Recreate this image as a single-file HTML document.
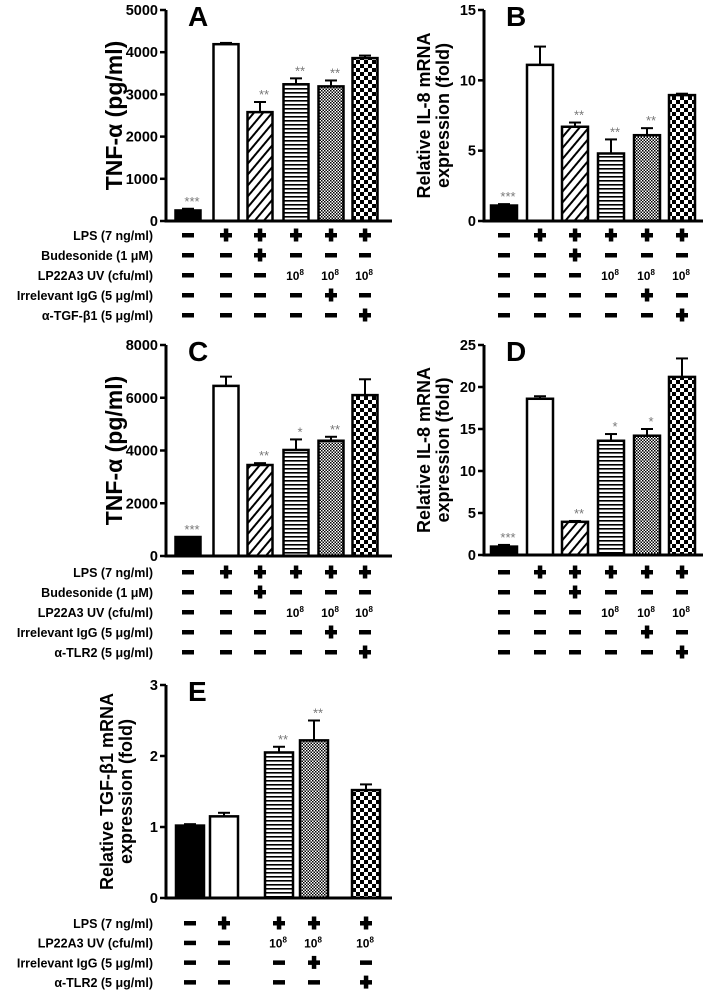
<!DOCTYPE html>
<html><head><meta charset="utf-8"><style>
html,body{margin:0;padding:0;background:#fff}
svg{display:block}
text{font-family:"Liberation Sans",Arial,sans-serif}
</style></head><body>
<svg id="fig" width="710" height="991" viewBox="0 0 710 991" xmlns="http://www.w3.org/2000/svg">
<defs>
<pattern id="p-hatch" patternUnits="userSpaceOnUse" width="7" height="7" patternTransform="rotate(40)">
<rect width="7" height="7" fill="#fff"/><rect x="0" y="0" width="2" height="7" fill="#000"/></pattern>
<pattern id="p-hline" patternUnits="userSpaceOnUse" width="4" height="4">
<rect width="4" height="4" fill="#fff"/><rect x="0" y="0" width="4" height="1.6" fill="#000"/></pattern>
<pattern id="p-fine" patternUnits="userSpaceOnUse" width="3" height="3">
<rect width="3" height="3" fill="#fff"/><rect width="1.5" height="1.5" fill="#000"/><rect x="1.5" y="1.5" width="1.5" height="1.5" fill="#000"/></pattern>
<pattern id="p-coarse" patternUnits="userSpaceOnUse" width="8" height="8">
<rect width="8" height="8" fill="#fff"/><rect width="4" height="4" fill="#000"/><rect x="4" y="4" width="4" height="4" fill="#000"/></pattern>
</defs>
</svg>
<script>
// ---- data ----
const valsA=[250,4190,2580,3240,3190,3860];
const errA=[290,4220,2820,3380,3330,3920];
const starsA=["***","","**","**","**",""];
const valsB=[1.1,11.1,6.7,4.8,6.1,8.95];
const errB=[1.2,12.4,7.0,5.8,6.6,9.05];
const starsB=["***","","**","**","**",""];
const valsC=[720,6450,3450,4020,4370,6100];
const errC=[720,6800,3520,4420,4520,6700];
const starsC=["***","","**","*","**",""];
const valsD=[1.0,18.6,3.95,13.6,14.2,21.2];
const errD=[1.2,18.9,4.05,14.4,15.0,23.4];
const starsD=["***","","**","*","*",""];
const valsE=[1.02,1.15,2.05,2.22,1.52];
const errE=[1.04,1.2,2.13,2.5,1.6];
const starsE=["","","**","**",""];
const ticksA=[0,1000,2000,3000,4000,5000];
const ticksB=[0,5,10,15];
const ticksC=[0,2000,4000,6000,8000];
const ticksD=[0,5,10,15,20,25];
const ticksE=[0,1,2,3];
const rowsAB=[["LPS (7 ng/ml)",["-","+","+","+","+","+"]],["Budesonide (1 \u03bcM)",["-","-","+","-","-","-"]],["LP22A3 UV (cfu/ml)",["-","-","-","e","e","e"]],["Irrelevant IgG (5 \u03bcg/ml)",["-","-","-","-","+","-"]],["\u03b1-TGF-\u03b21 (5 \u03bcg/ml)",["-","-","-","-","-","+"]]];
const rowsCD=[["LPS (7 ng/ml)",["-","+","+","+","+","+"]],["Budesonide (1 \u03bcM)",["-","-","+","-","-","-"]],["LP22A3 UV (cfu/ml)",["-","-","-","e","e","e"]],["Irrelevant IgG (5 \u03bcg/ml)",["-","-","-","-","+","-"]],["\u03b1-TLR2 (5 \u03bcg/ml)",["-","-","-","-","-","+"]]];
const rowsE=[["LPS (7 ng/ml)",["-","+","+","+","+"]],["LP22A3 UV (cfu/ml)",["-","-","e","e","e"]],["Irrelevant IgG (5 \u03bcg/ml)",["-","-","-","+","-"]],["\u03b1-TLR2 (5 \u03bcg/ml)",["-","-","-","-","+"]]];
const fills6=["#000","#fff","url(#p-hatch)","url(#p-hline)","url(#p-fine)","url(#p-coarse)"];
const fills5=["#000","#fff","url(#p-hline)","url(#p-fine)","url(#p-coarse)"];

const svg=document.getElementById('fig');
const NS="http://www.w3.org/2000/svg";
function mk(tag,attrs,parent){const e=document.createElementNS(NS,tag);for(const k in attrs)e.setAttribute(k,attrs[k]);(parent||svg).appendChild(e);return e;}

function panel(o){
  const g=mk('g',{});
  
  
  const ymax=o.ticks[o.ticks.length-1];
  const Y=v=>o.y0-(v/ymax)*(o.y0-o.yTop);
  o.vals.forEach((v,i)=>{
    const cx=o.cols[i],w=o.bw;
    const el=o.err[i];
    if(el>v){
      const l=mk('line',{x1:cx,x2:cx,y1:Y(v),y2:Y(el),stroke:'#000','stroke-width':2},g);
      
      
      mk('line',{x1:cx-6,x2:cx+6,y1:Y(el),y2:Y(el),stroke:'#000','stroke-width':2},g);
    }
    const r=mk('rect',{x:cx-w/2,y:Y(v),width:w,height:o.y0-Y(v),fill:o.fills[i],stroke:'#000','stroke-width':2.5},g);
    
    
    if(o.stars[i]){
      const t=mk('text',{x:cx+4,y:Y(Math.max(el,v))-3,'text-anchor':'middle','font-size':13,fill:'#777'},g);
      t.textContent=o.stars[i];
      
      
    }
  });
  const ya=mk('line',{x1:o.ax,x2:o.ax,y1:o.yTop,y2:o.y0+1.5,stroke:'#000','stroke-width':3},g);
  
  
  const xa=mk('line',{x1:o.ax-1.5,x2:o.axEnd,y1:o.y0,y2:o.y0,stroke:'#000','stroke-width':3},g);
  
  
  o.ticks.forEach(t=>{
    mk('line',{x1:o.ax-6,x2:o.ax,y1:Y(t),y2:Y(t),stroke:'#000','stroke-width':2.5},g);
    const tl=mk('text',{x:o.ax-8,y:Y(t)+5,'text-anchor':'end','font-size':14.5,'font-weight':'bold'},g);
    tl.textContent=t;
    
    
  });
  const L=mk('text',{x:o.ax+22,y:o.yTop+16,'font-size':28,'font-weight':'bold'},g);
  L.textContent=o.id;
  
  
  const tt=mk('text',{transform:`translate(${o.tx},${(o.yTop+o.y0)/2}) rotate(-90)`,'text-anchor':'middle','font-size':o.tsize,'font-weight':'bold'},g);
  
  
  o.title.forEach((s,k)=>{const ts=mk('tspan',{x:0,dy:k===0?0:o.lh},tt);ts.textContent=s;});
  o.rows.forEach((row,ri)=>{
    const y=o.rowY0+ri*o.rowDy;
    if(o.showLabels){
      const lt=mk('text',{x:153,y:y+5,'text-anchor':'end','font-size':12.5,'font-weight':'bold'},g);
      lt.textContent=row[0];
      
      
    }
    row[1].forEach((s,ci)=>{
      const cx=o.cols[ci];
      if(s==='-'){mk('rect',{x:cx-6,y:y-2,width:12,height:4.5,fill:'#000'},g);}
      else if(s==='+'){mk('rect',{x:cx-6,y:y-2,width:12,height:4.5,fill:'#000'},g);mk('rect',{x:cx-2.2,y:y-6.5,width:4.5,height:13,fill:'#000'},g);}
      else{const e=mk('text',{x:cx-1,y:y+5,'text-anchor':'middle','font-size':12,'font-weight':'bold'},g);
        e.textContent='10';const sp=mk('tspan',{dy:-5,'font-size':8},e);sp.textContent='8';}
    });
  });
}
const colsL=[188,226,260,296,331,365];
const colsR=[504,540,575,611,647,682];
panel({id:'A',vals:valsA,err:errA,stars:starsA,ticks:ticksA,fills:fills6,ax:166,axEnd:392,y0:221,yTop:10,cols:colsL,bw:25,title:['TNF-\u03b1 (pg/ml)'],tx:122,tsize:23,lh:0,rows:rowsAB,rowY0:235,rowDy:20,showLabels:true});
panel({id:'B',vals:valsB,err:errB,stars:starsB,ticks:ticksB,fills:fills6,ax:484,axEnd:703,y0:221,yTop:10,cols:colsR,bw:26,title:['Relative IL-8 mRNA','expression (fold)'],tx:430,tsize:18,lh:19,rows:rowsAB,rowY0:235,rowDy:20,showLabels:false});
panel({id:'C',vals:valsC,err:errC,stars:starsC,ticks:ticksC,fills:fills6,ax:166,axEnd:392,y0:556,yTop:345,cols:colsL,bw:25,title:['TNF-\u03b1 (pg/ml)'],tx:122,tsize:23,lh:0,rows:rowsCD,rowY0:572,rowDy:20,showLabels:true});
panel({id:'D',vals:valsD,err:errD,stars:starsD,ticks:ticksD,fills:fills6,ax:484,axEnd:703,y0:555,yTop:345,cols:colsR,bw:26,title:['Relative IL-8 mRNA','expression (fold)'],tx:430,tsize:18,lh:19,rows:rowsCD,rowY0:572,rowDy:20,showLabels:false});
panel({id:'E',vals:valsE,err:errE,stars:starsE,ticks:ticksE,fills:fills5,ax:166,axEnd:392,y0:898,yTop:685,cols:[190,224,279,314,366],bw:28,title:['Relative TGF-\u03b21 mRNA','expression (fold)'],tx:113,tsize:18,lh:19,rows:rowsE,rowY0:923,rowDy:19.7,showLabels:true});
</script>
</body></html>
